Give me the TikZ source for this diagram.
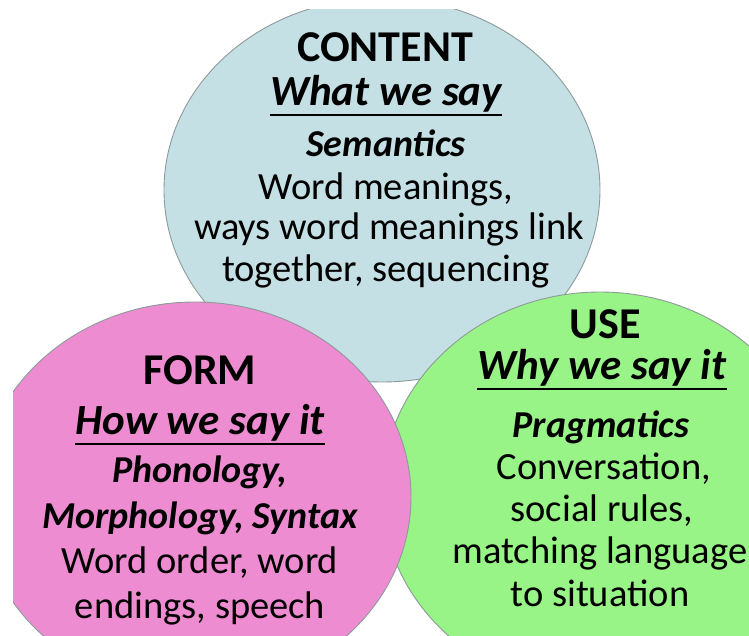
\documentclass[tikz,border=0pt]{standalone}
\usepackage{fontspec}
\setmainfont{Carlito}
\definecolor{blueC}{HTML}{C5E0E4}
\definecolor{pinkC}{HTML}{EE8CD2}
\definecolor{greenC}{HTML}{98F486}
\definecolor{edgeC}{HTML}{8C9A9A}
\tikzset{
  circ/.style={draw=edgeC, line width=0.9pt},
  body/.style={inner sep=0pt, anchor=base, font=\fontsize{38.5}{40}\selectfont},
  head/.style={inner sep=0pt, anchor=base, font=\fontsize{44}{48}\selectfont\bfseries},
  subh/.style={inner sep=0pt, anchor=base, font=\fontsize{43}{46}\selectfont\bfseries\itshape},
  term/.style={inner sep=0pt, anchor=base, font=\fontsize{38}{40}\selectfont\bfseries\itshape},
  uline/.style={line width=2.5pt, black},
}
\begin{document}
\begin{tikzpicture}[x=1pt,y=-1pt]
\useasboundingbox (0,0) rectangle (749,636);
\begin{scope}
  \clip (13,10) rectangle (749,636);
  \draw[circ, fill=blueC] (382,190) ellipse [x radius=218, y radius=192];
  \draw[circ, fill=greenC] (600,492) ellipse [x radius=218, y radius=200];
  \draw[circ, fill=pinkC] (195,497) ellipse [x radius=216, y radius=195];
\end{scope}
% CONTENT
\node[head] (c1) at (385,62) {CONTENT};
\node[subh] (c2) at (386,106) {What we say};
\draw[uline] ([yshift=-9pt]c2.base west) -- ([yshift=-9pt]c2.base east);
\node[term] (c3) at (386,157) {Semantics};
\node[body] (c4) at (386,200) {Word meanings,};
\node[body] (c5) at (389,240) {ways word meanings link};
\node[body] (c6) at (386,281) {together, sequencing};
% FORM
\node[head] (f1) at (200,384) {FORM};
\node[subh] (f2) at (200,434) {How we say it};
\draw[uline] ([yshift=-10pt]f2.base west) -- ([yshift=-10pt]f2.base east);
\node[term] (f3) at (200,482) {Phonology,};
\node[term] (f4) at (200,528) {Morphology, Syntax};
\node[body] (f5) at (200,573) {Word order, word};
\node[body] (f6) at (200,618) {endings, speech};
% USE
\node[head] (u1) at (605,338) {USE};
\node[subh] (u2) at (602,379) {Why we say it};
\draw[uline] ([yshift=-10pt]u2.base west) -- ([yshift=-10pt]u2.base east);
\node[term] (u3) at (601,437) {Pragmatics};
\node[body] (u4) at (604,479) {Conversation,};
\node[body] (u5) at (602,521) {social rules,};
\node[body] (u6) at (600,563) {matching language};
\node[body] (u7) at (600,606) {to situation};
\end{tikzpicture}
\end{document}
